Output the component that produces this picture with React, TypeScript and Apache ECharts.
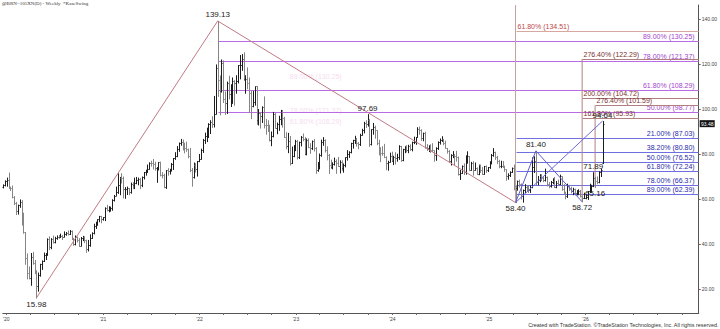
import React, { useEffect, useRef } from "react";
import * as echarts from "echarts";

// ---- Weekly OHLC bars [open, high, low, close], one per week (Fridays) starting 2019-12-20 ----
const firstWeek = "2019-12-20";
const bars2019 = [[65.3, 66.5, 64.9, 66.1], [66.1, 68.3, 65.8, 68.2]];
const bars2020 = [
  [68.2, 69.5, 65.7, 68.6], [68.6, 71.75, 64.8, 65.0], [65.0, 65.5, 63.8, 64.85], [64.85, 66.0, 60.5, 60.7],
  [60.7, 61.3, 57.5, 58.2], [58.2, 58.7, 53.1, 54.5], [54.5, 57.5, 53.3, 57.3], [57.3, 59.8, 56.3, 58.5],
  [58.5, 59.5, 48.4, 49.7], [49.7, 53.9, 44.8, 45.3], [45.3, 45.3, 31.0, 33.85], [33.85, 35.8, 24.5, 26.98],
  [26.98, 30.0, 24.5, 24.93], [24.93, 36.0, 21.65, 34.11], [34.11, 36.5, 31.0, 31.48], [31.48, 32.9, 26.8, 28.08],
  [28.08, 28.3, 15.98, 21.44], [21.44, 27.3, 19.0, 26.44], [26.44, 31.2, 25.7, 30.97], [30.97, 32.7, 28.7, 32.5],
  [32.5, 36.2, 32.2, 35.13], [35.13, 36.0, 33.1, 35.33], [35.33, 42.5, 35.1, 42.3], [42.3, 43.4, 37.5, 38.73],
  [38.73, 42.6, 37.9, 42.19], [42.19, 43.7, 40.4, 41.02], [41.02, 43.2, 40.5, 42.8], [42.8, 43.8, 42.1, 43.24],
  [43.24, 44.0, 42.5, 43.14], [43.14, 44.6, 42.9, 43.34], [43.34, 44.0, 42.0, 43.3], [43.3, 45.6, 43.2, 44.4],
  [44.4, 45.3, 43.9, 44.8], [44.8, 46.0, 44.0, 44.35], [44.35, 46.2, 44.2, 45.81], [45.81, 46.0, 42.0, 42.66],
  [42.66, 42.7, 39.4, 39.83], [39.83, 43.8, 39.6, 43.15], [43.15, 43.3, 40.9, 41.92], [41.92, 42.6, 38.9, 39.27],
  [39.27, 43.1, 39.2, 42.85], [42.85, 43.6, 41.5, 42.93], [42.93, 43.4, 40.6, 41.77], [41.77, 41.9, 36.3, 37.94],
  [37.94, 41.8, 36.9, 39.45], [39.45, 44.3, 39.0, 42.78], [42.78, 45.2, 42.5, 44.96], [44.96, 49.0, 44.5, 48.18],
  [48.18, 49.9, 46.9, 49.25], [49.25, 51.0, 48.3, 50.97], [50.97, 52.5, 49.9, 52.26], [52.26, 52.5, 49.4, 51.29],
  [51.29, 51.9, 50.6, 51.8],
];
const bars2021 = [
  [51.8, 56.3, 50.4, 55.99], [55.99, 57.4, 54.7, 55.1], [55.1, 56.8, 54.3, 55.41], [55.41, 56.6, 54.6, 55.88],
  [55.88, 59.9, 55.0, 59.34], [59.34, 61.8, 59.1, 61.43], [61.43, 65.5, 61.6, 62.91], [62.91, 71.4, 62.5, 66.13],
  [66.13, 69.8, 61.9, 69.36], [69.36, 71.4, 67.1, 69.22], [69.22, 70.0, 60.5, 64.53], [64.53, 65.3, 60.3, 64.57],
  [64.57, 65.5, 62.0, 64.86], [64.86, 64.9, 61.9, 62.95], [62.95, 67.3, 62.6, 66.77], [66.77, 67.5, 64.6, 66.11],
  [66.11, 69.5, 64.6, 67.25], [67.25, 69.8, 66.8, 68.28], [68.28, 69.5, 66.3, 68.71], [68.71, 69.3, 64.6, 66.44],
  [66.44, 70.0, 65.5, 69.63], [69.63, 72.0, 68.9, 71.89], [71.89, 73.0, 70.6, 72.69], [72.69, 75.3, 71.8, 73.51],
  [73.51, 76.3, 73.3, 76.18], [76.18, 77.0, 74.6, 76.17], [76.17, 77.8, 73.3, 75.55], [75.55, 76.5, 72.8, 73.59],
  [73.59, 74.1, 67.4, 74.1], [74.1, 76.4, 72.9, 76.33], [76.33, 76.6, 70.3, 70.7], [70.7, 71.9, 69.4, 70.59],
  [70.59, 71.2, 65.0, 65.18], [65.18, 72.8, 64.7, 72.7], [72.7, 73.7, 70.6, 72.61], [72.61, 73.4, 71.1, 72.92],
  [72.92, 76.0, 72.4, 75.34], [75.34, 78.2, 73.1, 78.09], [78.09, 80.8, 77.6, 79.28], [79.28, 83.5, 78.8, 82.39],
  [82.39, 85.1, 81.2, 84.86], [84.86, 86.7, 83.9, 85.53], [85.53, 86.4, 81.8, 83.72], [83.72, 85.0, 80.5, 82.74],
  [82.74, 85.5, 81.2, 82.17], [82.17, 82.4, 78.3, 78.89], [78.89, 82.7, 72.1, 72.72], [72.72, 73.8, 65.7, 69.88],
  [69.88, 76.2, 69.3, 75.15], [75.15, 75.9, 72.0, 73.52], [73.52, 76.9, 70.2, 76.85], [76.85, 80.0, 76.6, 77.78],
];
const bars2022 = [
  [77.78, 82.4, 77.7, 81.75], [81.75, 86.7, 80.7, 86.06], [86.06, 89.5, 84.7, 87.89], [87.89, 91.7, 85.5, 90.03],
  [90.03, 93.7, 87.3, 93.27], [93.27, 95.0, 89.1, 94.44], [94.44, 96.8, 91.8, 93.54], [93.54, 105.8, 92.0, 97.93],
  [97.93, 119.8, 97.8, 118.11], [118.11, 139.13, 105.6, 112.67], [112.67, 114.9, 97.4, 107.93], [107.93, 122.0, 107.5, 120.65],
  [120.65, 121.6, 102.9, 104.39], [104.39, 107.8, 97.6, 102.78], [102.78, 112.2, 98.0, 111.7], [111.7, 114.8, 104.5, 106.65],
  [106.65, 111.0, 101.1, 109.34], [109.34, 114.0, 102.5, 112.39], [112.39, 112.8, 101.7, 111.55], [111.55, 115.0, 107.0, 112.55],
  [112.55, 119.5, 111.6, 119.43], [119.43, 124.0, 113.4, 119.72], [119.72, 124.4, 117.2, 122.01], [122.01, 125.2, 112.7, 113.12],
  [113.12, 115.0, 107.0, 113.12], [113.12, 118.5, 109.0, 111.63], [111.63, 114.0, 98.5, 107.02], [107.02, 108.0, 95.7, 101.16],
  [101.16, 108.0, 101.0, 103.2], [103.2, 110.0, 101.7, 110.01], [110.01, 110.2, 93.2, 94.92], [94.92, 100.0, 92.9, 98.15],
  [98.15, 98.7, 91.5, 96.72], [96.72, 101.2, 94.0, 100.99], [100.99, 105.6, 91.6, 93.02], [93.02, 95.6, 88.8, 92.84],
  [92.84, 95.0, 90.0, 91.35], [91.35, 93.0, 85.8, 86.15], [86.15, 90.0, 83.7, 87.96], [87.96, 98.7, 87.6, 97.92],
  [97.92, 98.2, 91.5, 91.63], [91.63, 94.0, 89.0, 93.5], [93.5, 97.0, 90.5, 95.77], [95.77, 99.6, 93.0, 98.57],
  [98.57, 99.6, 91.9, 95.99], [95.99, 96.5, 87.3, 87.62], [87.62, 89.7, 82.3, 83.63], [83.63, 89.4, 80.6, 85.57],
  [85.57, 88.0, 75.1, 76.1], [76.1, 83.3, 75.8, 79.04], [79.04, 84.0, 78.8, 83.92], [83.92, 86.3, 81.5, 85.91],
];
const bars2023 = [
  [85.91, 86.2, 77.8, 78.57], [78.57, 85.5, 78.0, 85.28], [85.28, 88.0, 83.6, 87.63], [87.63, 89.1, 85.9, 86.66],
  [86.66, 87.5, 79.7, 79.94], [79.94, 86.9, 79.6, 86.39], [86.39, 86.9, 82.8, 83.0], [83.0, 84.8, 80.3, 82.45],
  [82.45, 86.0, 82.0, 85.83], [85.83, 86.7, 81.3, 82.78], [82.78, 83.0, 71.4, 72.97], [72.97, 76.4, 72.3, 74.99],
  [74.99, 80.2, 73.4, 79.77], [79.77, 86.4, 79.0, 85.12], [85.12, 87.5, 83.9, 86.31], [86.31, 86.5, 80.9, 81.66],
  [81.66, 83.4, 77.4, 79.54], [79.54, 80.0, 71.3, 75.3], [75.3, 77.5, 73.6, 74.17], [74.17, 76.3, 73.4, 75.58],
  [75.58, 78.4, 75.1, 76.95], [76.95, 77.6, 71.4, 76.13], [76.13, 78.7, 74.5, 74.79], [74.79, 77.2, 71.6, 76.61],
  [76.61, 77.2, 72.8, 73.85], [73.85, 75.8, 71.9, 74.9], [74.9, 78.5, 74.3, 78.47], [78.47, 81.7, 77.3, 79.87],
  [79.87, 81.2, 78.5, 81.07], [81.07, 85.0, 80.5, 84.99], [84.99, 86.3, 82.6, 86.24], [86.24, 88.1, 84.7, 86.81],
  [86.81, 87.1, 83.5, 84.8], [84.8, 85.3, 82.3, 84.48], [84.48, 89.0, 83.8, 88.55], [88.55, 91.2, 88.4, 90.65],
  [90.65, 94.3, 89.4, 93.93], [93.93, 95.0, 91.8, 93.27], [93.27, 97.69, 92.4, 95.31], [95.31, 95.5, 83.4, 84.58],
  [84.58, 91.0, 84.0, 90.89], [90.89, 93.8, 88.8, 92.16], [92.16, 92.6, 87.0, 90.48], [90.48, 90.6, 84.1, 84.89],
  [84.89, 86.3, 79.6, 81.43], [81.43, 83.0, 76.6, 80.61], [80.61, 83.5, 79.4, 80.58], [80.58, 84.5, 78.4, 78.88],
  [78.88, 79.0, 73.0, 75.84], [75.84, 77.0, 72.8, 76.55], [76.55, 80.6, 76.4, 79.07], [79.07, 81.0, 76.8, 77.04],
];
const bars2024 = [
  [77.04, 79.2, 75.3, 78.76], [78.76, 80.8, 75.6, 78.29], [78.29, 80.1, 76.8, 78.56], [78.56, 83.9, 77.6, 83.55],
  [83.55, 83.6, 76.7, 77.33], [77.33, 82.3, 77.0, 82.19], [82.19, 83.6, 80.6, 83.47], [83.47, 83.9, 80.9, 81.62],
  [81.62, 84.1, 80.6, 83.55], [83.55, 84.3, 81.6, 82.08], [82.08, 85.5, 81.4, 85.34], [85.34, 87.7, 84.6, 85.43],
  [85.43, 87.5, 84.3, 87.48], [87.48, 91.9, 87.5, 91.17], [91.17, 92.2, 88.8, 90.45], [90.45, 91.0, 86.1, 87.29],
  [87.29, 89.5, 85.9, 89.5], [89.5, 89.9, 82.6, 82.96], [82.96, 84.4, 81.6, 82.79], [82.79, 84.0, 81.1, 83.98],
  [83.98, 84.3, 80.7, 81.84], [81.84, 84.8, 81.1, 81.62], [81.62, 81.6, 76.8, 79.62], [79.62, 83.0, 77.2, 82.62],
  [82.62, 85.6, 82.0, 85.24], [85.24, 86.9, 84.4, 86.41], [86.41, 87.9, 85.6, 86.54], [86.54, 86.7, 84.1, 85.03],
  [85.03, 85.9, 82.5, 82.63], [82.63, 82.7, 80.4, 81.13], [81.13, 81.8, 76.3, 76.81], [76.81, 79.9, 75.1, 79.66],
  [79.66, 81.3, 78.4, 79.68], [79.68, 80.0, 75.1, 79.02], [79.02, 81.4, 76.8, 78.8], [78.8, 78.9, 70.6, 71.06],
  [71.06, 72.9, 68.7, 71.61], [71.61, 74.9, 71.4, 74.49], [74.49, 75.8, 70.9, 71.98], [71.98, 79.4, 71.0, 78.05],
  [78.05, 81.2, 75.9, 79.04], [79.04, 79.1, 72.6, 73.06], [73.06, 76.5, 72.8, 76.05], [76.05, 76.8, 70.6, 73.1],
  [73.1, 76.2, 72.8, 73.87], [73.87, 74.0, 70.9, 71.04], [71.04, 75.3, 70.8, 75.17], [75.17, 75.3, 71.8, 72.94],
  [72.94, 74.2, 70.9, 71.12], [71.12, 74.7, 71.0, 74.49], [74.49, 74.9, 71.8, 72.94], [72.94, 74.2, 72.2, 74.17],
];
const bars2025 = [
  [74.17, 76.8, 73.6, 76.51], [76.51, 80.0, 75.6, 79.76], [79.76, 82.6, 79.0, 80.79], [80.79, 81.0, 77.6, 78.5],
  [78.5, 79.2, 75.7, 76.76], [76.76, 77.4, 73.9, 74.66], [74.66, 77.0, 73.9, 74.74], [74.74, 76.9, 74.2, 74.43],
  [74.43, 74.8, 72.3, 73.18], [73.18, 73.2, 68.3, 70.36], [70.36, 71.4, 68.8, 70.58], [70.58, 72.3, 70.0, 72.16],
  [72.16, 74.0, 71.8, 73.63], [73.63, 75.3, 64.1, 65.58], [65.58, 66.0, 58.4, 64.76], [64.76, 68.2, 63.9, 67.96],
  [67.96, 68.6, 65.3, 66.87], [66.87, 66.9, 60.0, 61.29], [61.29, 64.2, 58.6, 63.91], [63.91, 66.6, 62.8, 65.41],
  [65.41, 66.2, 63.4, 64.78], [64.78, 65.8, 62.9, 63.9], [63.9, 66.0, 62.9, 65.34], [65.34, 78.5, 65.0, 74.23],
  [74.23, 79.0, 71.8, 77.01], [77.01, 81.4, 66.3, 67.77], [67.77, 70.2, 66.3, 68.3], [68.3, 71.0, 67.7, 70.36],
  [70.36, 71.0, 68.2, 69.28], [69.28, 70.0, 67.7, 68.44], [68.44, 73.5, 68.0, 69.67], [69.67, 70.0, 65.8, 66.59],
  [66.59, 67.5, 65.0, 65.85], [65.85, 68.0, 65.3, 67.73], [67.73, 69.2, 66.8, 68.12], [68.12, 69.8, 65.1, 65.5],
  [65.5, 68.0, 65.0, 66.99], [66.99, 68.6, 66.3, 66.68], [66.68, 70.8, 66.4, 70.13], [70.13, 70.1, 63.9, 64.53],
  [64.53, 66.6, 62.5, 62.73], [62.73, 63.2, 60.1, 61.29], [61.29, 66.8, 60.7, 65.94], [65.94, 66.3, 63.8, 64.77],
  [64.77, 65.4, 62.7, 63.63], [63.63, 65.0, 61.9, 64.39], [64.39, 64.6, 61.8, 62.56], [62.56, 63.9, 61.8, 63.2],
  [63.2, 64.3, 61.9, 63.75], [63.75, 64.0, 60.9, 61.12], [61.12, 61.5, 58.72, 60.47], [60.47, 62.8, 60.2, 60.64],
];
const bars2026 = [
  [60.64, 62.0, 60.1, 60.75], [60.75, 63.5, 59.8, 63.34], [63.34, 66.8, 62.9, 64.13], [64.13, 66.3, 63.0, 65.88],
  [65.88, 71.89, 65.5, 69.32], [69.32, 69.8, 65.16, 67.95], [67.95, 70.0, 66.8, 67.75], [67.75, 72.3, 67.2, 71.8],
  [71.8, 73.5, 70.0, 72.87], [76.0, 94.64, 75.8, 93.48],
];

// ---- Swing points and drawings ----
const swingDates = ["2020-04-24", "2022-03-11", "2023-09-29", "2025-04-11", "2025-06-27", "2025-12-19", "2026-01-30", "2026-02-06", "2026-03-06"];
const swingPrices = [15.98, 139.13, 97.69, 58.4, 81.4, 58.72, 71.89, 65.16, 94.64];
const swingSides = ["low", "high", "high", "low", "high", "low", "high", "low", "high"];

const majorZigDates = ["2020-04-24", "2022-03-11", "2025-04-11"];
const majorZigPrices = [15.98, 139.13, 58.4];
const minorZigDates = ["2025-04-11", "2025-06-27", "2025-12-19"];
const minorZigPrices = [58.4, 81.4, 58.72];
const retraceDates = ["2025-04-11", "2026-03-06"];
const retracePrices = [58.4, 94.64];

// Fibonacci retracements / extensions
const purpleStart = "2022-03-11";
const purpleLevels = [130.25, 121.37, 108.29, 98.77];
const purplePcts = ["89.00%", "78.00%", "61.80%", "50.00%"];
const blueStart = "2025-04-11";
const blueLevels = [87.03, 80.8, 76.52, 72.24, 66.37, 62.39];
const bluePcts = ["21.00%", "38.20%", "50.00%", "61.80%", "78.00%", "89.00%"];
const extAStart = "2025-04-11";
const extAAnchor = 58.4;
const extALevels = [134.51];
const extAPcts = ["61.80%"];
const extBStart = "2025-12-19";
const extBAnchor = 58.72;
const extBLevels = [122.29, 104.72, 95.93];
const extBPcts = ["276.40%", "200.00%", "161.80%"];
const extCStart = "2026-02-06";
const extCAnchor = 65.16;
const extCLevels = [101.59];
const extCPcts = ["276.40%"];

// faint ghosted labels (older drawing)
const ghostDates = ["2023-06-23", "2023-06-23", "2023-06-23"];
const ghostPrices = [114.5, 99.5, 94.5];
const ghostTexts = ["89.00% (130.25)", "78.00% (121.37)", "61.80% (108.29)"];

const lastClose = 93.48;
const yTickValues = [20, 40, 60, 80, 100, 120, 140];
const axisYears = [2020, 2021, 2022, 2023, 2024, 2025, 2026];

const DAY = 86400000;
const toT = (s: string) => {
  const [y, m, d] = s.split("-").map(Number);
  return Date.UTC(y, m - 1, d);
};

const FONT = "Liberation Sans";

export default function App() {
  const ref = useRef<HTMLDivElement>(null);
  useEffect(() => {
    document.body.style.margin = "0";
    const chart = echarts.init(ref.current!, null, { renderer: "svg" });

    const allBars = [...bars2019, ...bars2020, ...bars2021, ...bars2022, ...bars2023, ...bars2024, ...bars2025, ...bars2026];
    const t0 = toT(firstWeek);
    const ohlc = allBars.map((b, i) => [t0 + i * 7 * DAY, b[0], b[1], b[2], b[3]]);
    const lastT = ohlc[ohlc.length - 1][0];

    const xMin = Date.UTC(2019, 11, 19);
    const xMax = Date.UTC(2027, 2, 5);
    const yMin = 9.33;
    const yMax = 146.22;

    const yearTicks = axisYears.map((y) => Date.UTC(y, 0, 1));
    const quarterTicks: number[] = [];
    axisYears.forEach((y) => [0, 3, 6, 9].forEach((m) => quarterTicks.push(Date.UTC(y, m, 1))));
    quarterTicks.push(Date.UTC(2027, 0, 1));

    const px = (v: number) => Math.round(v) + 0.5;

    const fibSeries = (startDate: string, levels: number[], pcts: string[], lineColor: string, textColor: string, align: "left" | "right") => ({
      type: "custom",
      z: 2,
      clip: false,
      data: levels.map((lv) => [toT(startDate), lv]),
      renderItem: (params: any, api: any) => {
        const i = params.dataIndex;
        const cs = params.coordSys;
        const p = api.coord([api.value(0), api.value(1)]);
        const x0 = px(p[0]);
        const y = px(p[1]);
        const xr = cs.x + cs.width;
        return {
          type: "group",
          children: [
            { type: "line", shape: { x1: x0, y1: y, x2: xr, y2: y }, style: { stroke: lineColor, lineWidth: 1 } },
            {
              type: "text",
              x: align === "right" ? xr - 4 : x0 + 1,
              y: y - 1.5,
              style: {
                text: `${pcts[i]} (${levels[i].toFixed(2)})`,
                fill: textColor,
                fontSize: 7,
                fontFamily: FONT,
                align,
                verticalAlign: "bottom",
              },
            },
          ],
        };
      },
    });

    const lineSeries = (dates: string[], prices: number[], color: string, z = 4) => ({
      type: "line",
      z,
      silent: true,
      showSymbol: false,
      symbol: "none",
      lineStyle: { color, width: 1 },
      data: dates.map((d, i) => [toT(d), prices[i]]),
    });

    const option: any = {
      animation: false,
      backgroundColor: "#ffffff",
      grid: { left: 0, right: 17, top: 5, bottom: 16 },
      xAxis: {
        type: "value",
        min: xMin,
        max: xMax,
        axisLine: { show: true, onZero: false, lineStyle: { color: "#555", width: 1 } },
        axisTick: { show: true, customValues: quarterTicks, length: 2, lineStyle: { color: "#666" } },
        axisLabel: {
          show: true,
          customValues: yearTicks,
          formatter: (v: number) => "'" + String(new Date(v).getUTCFullYear()).slice(2),
          fontSize: 5,
          color: "#444",
          fontFamily: FONT,
          margin: 3,
        },
        splitLine: { show: false },
      },
      yAxis: {
        type: "value",
        position: "right",
        min: yMin,
        max: yMax,
        axisLine: { show: true, onZero: false, lineStyle: { color: "#555", width: 1 } },
        axisTick: { show: true, customValues: yTickValues, length: 2, lineStyle: { color: "#666" } },
        axisLabel: {
          show: true,
          customValues: yTickValues,
          formatter: (v: number) => v.toFixed(2),
          fontSize: 5,
          color: "#444",
          fontFamily: FONT,
          margin: 3,
        },
        splitLine: { show: false },
      },
      graphic: [
        {
          type: "text",
          left: 2,
          top: 1,
          style: { text: "@BRN=105XN(D) - Weekly  *KaseSwing", fontSize: 5, fontFamily: "Liberation Serif", fill: "#333" },
        },
        {
          type: "text",
          right: 1,
          top: 322,
          style: {
            text: "Created with TradeStation. ©TradeStation Technologies, Inc. All rights reserved.",
            fontSize: 5.4,
            fontFamily: FONT,
            fill: "#333",
          },
        },
      ],
      series: [
        // ghost labels
        {
          type: "custom",
          z: 1,
          clip: true,
          data: ghostDates.map((d, i) => [toT(d), ghostPrices[i]]),
          renderItem: (params: any, api: any) => {
            const p = api.coord([api.value(0), api.value(1)]);
            return {
              type: "text",
              x: p[0],
              y: p[1],
              style: { text: ghostTexts[params.dataIndex], fill: "#f6dcef", fontSize: 7, fontFamily: FONT, align: "right", verticalAlign: "middle" },
            };
          },
        },
        fibSeries(purpleStart, purpleLevels, purplePcts, "#b96be6", "#a43fd0", "right"),
        fibSeries(blueStart, blueLevels, bluePcts, "#6f6fe0", "#2a2aa8", "right"),
        fibSeries(extAStart, extALevels, extAPcts, "#d8a8a0", "#c04848", "left"),
        fibSeries(extBStart, extBLevels, extBPcts, "#b08080", "#7a3030", "left"),
        fibSeries(extCStart, extCLevels, extCPcts, "#b08080", "#7a3030", "left"),
        // vertical anchors of extension tools
        lineSeries([extAStart, extAStart], [extAAnchor, yMax], "#c0a09a", 2),
        lineSeries([extBStart, extBStart], [extBAnchor, extBLevels[0]], "#b08080", 2),
        lineSeries([extCStart, extCStart], [extCAnchor, extCLevels[0]], "#b08080", 2),
        // OHLC bars
        {
          type: "custom",
          z: 3,
          clip: true,
          data: ohlc,
          encode: { x: 0, y: [1, 2, 3, 4] },
          renderItem: (params: any, api: any) => {
            const t = api.value(0);
            const o = api.value(1);
            const h = api.value(2);
            const l = api.value(3);
            const c = api.value(4);
            const ph = api.coord([t, h]);
            const pl = api.coord([t, l]);
            const po = api.coord([t, o]);
            const pc = api.coord([t, c]);
            const x = px(ph[0]);
            const col = c >= o ? "#1c1c1c" : "#858585";
            const yo = px(po[1]);
            const yc = px(pc[1]);
            return {
              type: "group",
              children: [
                { type: "line", shape: { x1: x, y1: ph[1], x2: x, y2: pl[1] + 0.5 }, style: { stroke: col, lineWidth: 1 } },
                { type: "line", shape: { x1: x - 1, y1: yo, x2: x, y2: yo }, style: { stroke: col, lineWidth: 1 } },
                { type: "line", shape: { x1: x, y1: yc, x2: x + 1, y2: yc }, style: { stroke: col, lineWidth: 1 } },
              ],
            };
          },
        },
        // swing zigzags
        lineSeries(majorZigDates, majorZigPrices, "#c07a84"),
        lineSeries(minorZigDates, minorZigPrices, "#5b5bd0"),
        lineSeries(retraceDates, retracePrices, "#6b6bd6"),
        // swing labels
        {
          type: "custom",
          z: 6,
          clip: false,
          data: swingDates.map((d, i) => [toT(d), swingPrices[i]]),
          renderItem: (params: any, api: any) => {
            const i = params.dataIndex;
            const p = api.coord([api.value(0), api.value(1)]);
            const above = swingSides[i] === "high";
            return {
              type: "text",
              x: p[0],
              y: above ? p[1] - 2 : p[1] + 2,
              style: {
                text: swingPrices[i].toFixed(2),
                fill: "#222",
                fontSize: 8,
                fontFamily: FONT,
                align: "center",
                verticalAlign: above ? "bottom" : "top",
              },
            };
          },
        },
        // last price marker on the price axis
        {
          type: "custom",
          z: 7,
          clip: false,
          data: [[lastT, lastClose]],
          renderItem: (params: any, api: any) => {
            const cs = params.coordSys;
            const p = api.coord([api.value(0), api.value(1)]);
            const xr = cs.x + cs.width;
            return {
              type: "group",
              children: [
                { type: "rect", shape: { x: xr + 1, y: p[1] - 3.5, width: 15, height: 7 }, style: { fill: "#111" } },
                {
                  type: "text",
                  x: xr + 8.5,
                  y: p[1],
                  style: { text: lastClose.toFixed(2), fill: "#fff", fontSize: 5, fontFamily: FONT, align: "center", verticalAlign: "middle" },
                },
              ],
            };
          },
        },
      ],
    };

    chart.setOption(option);
    return () => chart.dispose();
  }, []);

  return <div ref={ref} style={{ position: "absolute", left: 0, top: 0, width: 720, height: 329, background: "#fff" }} />;
}
